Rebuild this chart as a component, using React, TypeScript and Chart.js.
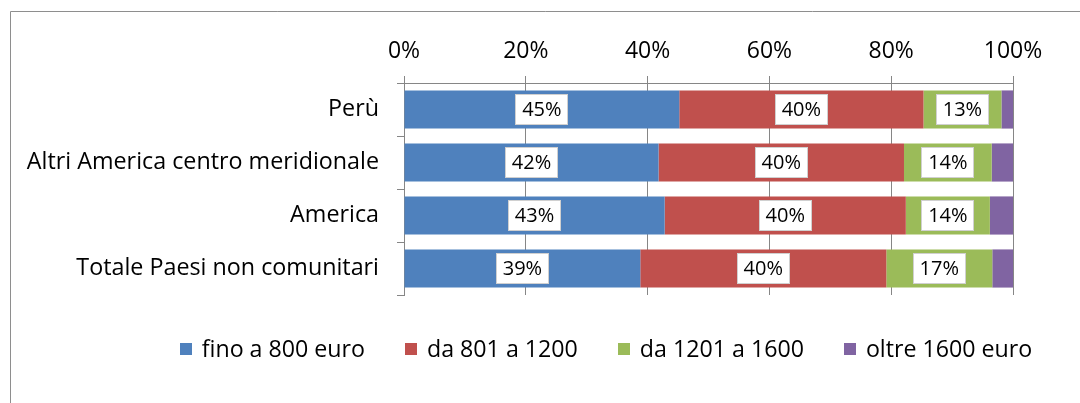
import React, { useEffect, useRef } from "react";
import { Chart, registerables } from "chart.js";

Chart.register(...registerables);

const categories = ["Perù", "Altri America centro meridionale", "America", "Totale Paesi non comunitari"];
const seriesLabels = ["fino a 800 euro", "da 801 a 1200", "da 1201 a 1600", "oltre 1600 euro"];
const fino800 = [45.2, 41.8, 42.8, 38.8];
const da801a1200 = [40.1, 40.3, 39.6, 40.4];
const da1201a1600 = [12.8, 14.4, 13.8, 17.4];
const oltre1600 = [1.9, 3.5, 3.8, 3.4];
const xTicks = [0, 20, 40, 60, 80, 100];

const seriesColors = ["#4F81BD", "#C0504D", "#9BBB59", "#8064A2"];
const labelledSeries = [0, 1, 2];
const FONT = "'Open Sans', 'DejaVu Sans', sans-serif";
const AXIS_COLOR = "#868686";

const framePlugin = {
  id: "frame",
  beforeDraw(chart: any) {
    const ctx = chart.ctx;
    ctx.save();
    ctx.fillStyle = "#ffffff";
    ctx.fillRect(0, 0, chart.width, chart.height);
    ctx.strokeStyle = "#8e8e8e";
    ctx.lineWidth = 1;
    ctx.beginPath();
    ctx.moveTo(10.5, chart.height);
    ctx.lineTo(10.5, 11.5);
    ctx.lineTo(chart.width, 11.5);
    ctx.stroke();
    ctx.restore();
  },
};

const segLabelPlugin = {
  id: "segLabels",
  afterDatasetsDraw(chart: any) {
    const ctx = chart.ctx;
    ctx.save();
    ctx.font = `20px ${FONT}`;
    ctx.textAlign = "center";
    ctx.textBaseline = "middle";
    labelledSeries.forEach((di) => {
      const ds = chart.data.datasets[di];
      const meta = chart.getDatasetMeta(di);
      meta.data.forEach((el: any, i: number) => {
        const v = ds.data[i] as number;
        const text = Math.round(v) + "%";
        const { x, y } = el.getCenterPoint();
        const tw = ctx.measureText(text).width;
        const w = Math.round(tw + 14);
        const h = 31;
        const left = Math.round(x - w / 2);
        const top = Math.round(y - h / 2);
        ctx.fillStyle = "#ffffff";
        ctx.fillRect(left, top, w, h);
        ctx.strokeStyle = "rgba(120,120,120,0.35)";
        ctx.lineWidth = 1;
        ctx.strokeRect(left + 0.5, top + 0.5, w - 1, h - 1);
        ctx.fillStyle = "#000000";
        ctx.fillText(text, x, y + 1);
      });
    });
    ctx.restore();
  },
};

const legendPlugin = {
  id: "customLegend",
  afterDraw(chart: any) {
    const ctx = chart.ctx;
    const size = 23.2;
    ctx.save();
    ctx.font = `${size}px ${FONT}`;
    ctx.textBaseline = "middle";
    ctx.textAlign = "left";
    const box = 12;
    const gapBT = 10;
    const gapItem = 40;
    const items = chart.data.datasets.map((ds: any) => ({
      text: ds.label as string,
      color: ds.backgroundColor as string,
      w: ctx.measureText(ds.label).width,
    }));
    const total =
      items.reduce((s: number, it: any) => s + box + gapBT + it.w, 0) + gapItem * (items.length - 1);
    let x = 606 - total / 2;
    const cy = 349;
    items.forEach((it: any) => {
      ctx.fillStyle = it.color;
      ctx.fillRect(Math.round(x), cy - box / 2, box, box);
      ctx.fillStyle = "#000000";
      ctx.fillText(it.text, x + box + gapBT, cy + 1);
      x += box + gapBT + it.w + gapItem;
    });
    ctx.restore();
  },
};

export default function App() {
  const ref = useRef<HTMLCanvasElement>(null);
  useEffect(() => {
    const seriesData = [fino800, da801a1200, da1201a1600, oltre1600];
    const chart = new Chart(ref.current as HTMLCanvasElement, {
      type: "bar",
      data: {
        labels: categories,
        datasets: seriesData.map((d, i) => ({
          label: seriesLabels[i],
          data: d,
          backgroundColor: seriesColors[i],
          borderWidth: 0,
          barPercentage: 0.72,
          categoryPercentage: 1,
        })),
      },
      options: {
        indexAxis: "y",
        responsive: false,
        animation: false,
        layout: { padding: { left: 0, right: 67, top: 0, bottom: 108 } },
        plugins: { legend: { display: false }, tooltip: { enabled: false } },
        scales: {
          x: {
            type: "linear",
            position: "top",
            stacked: true,
            min: 0,
            max: 100,
            afterBuildTicks: (s: any) => {
              s.ticks = xTicks.map((v) => ({ value: v }));
            },
            afterFit: (s: any) => {
              s.height = 83;
            },
            ticks: {
              callback: (v: any) => v + "%",
              color: "#000000",
              font: { size: 23, family: FONT },
              padding: 11,
              maxRotation: 0,
            },
            grid: { color: AXIS_COLOR, tickLength: 7, drawTicks: true },
            border: { color: AXIS_COLOR },
          },
          y: {
            type: "category",
            stacked: true,
            afterFit: (s: any) => {
              s.width = 404;
            },
            ticks: {
              color: "#000000",
              font: { size: 23.3, family: FONT },
              padding: 18,
            },
            grid: { drawOnChartArea: false, tickLength: 7, color: AXIS_COLOR, offset: true },
            border: { color: AXIS_COLOR },
          },
        },
      } as any,
      plugins: [framePlugin, segLabelPlugin, legendPlugin],
    });
    return () => chart.destroy();
  }, []);
  return (
    <div style={{ position: "fixed", left: 0, top: 0, width: 1080, height: 403, background: "#fff" }}>
      <canvas ref={ref} width={1080} height={403} style={{ display: "block", width: 1080, height: 403 }} />
    </div>
  );
}
